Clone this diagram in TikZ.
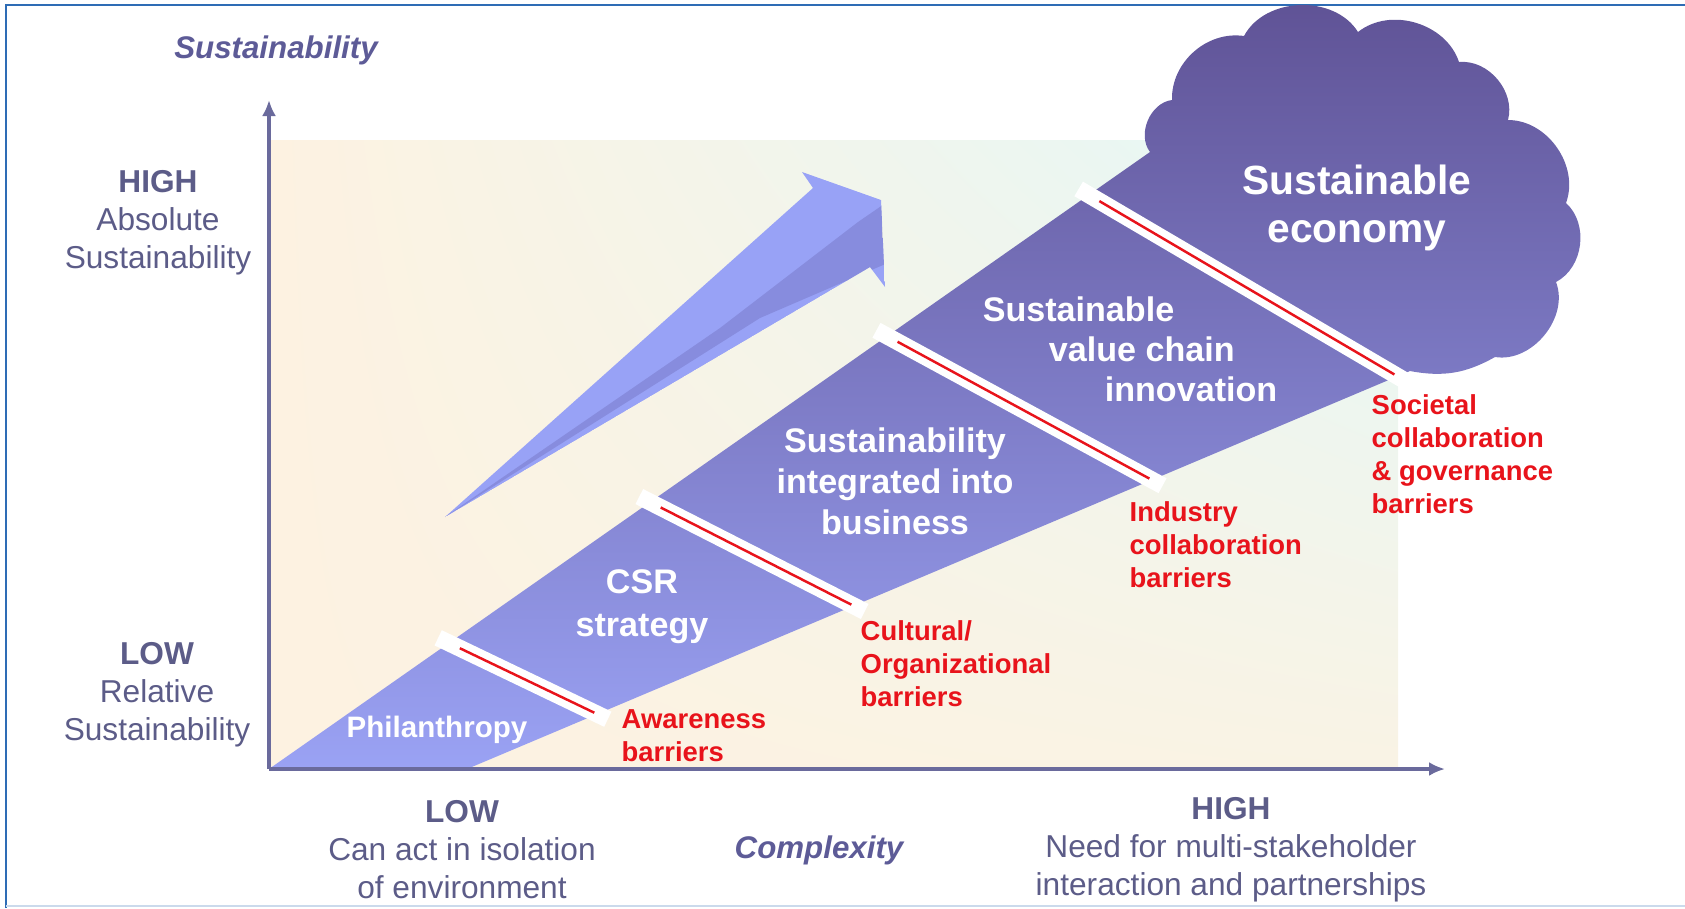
\documentclass[tikz,border=0pt]{standalone}
\usepackage{fontspec}
\setmainfont{Liberation Sans}
\usetikzlibrary{arrows.meta,calc,shadings}

\definecolor{slate}{HTML}{5C5C88}
\definecolor{axisblue}{HTML}{6A6A9C}
\definecolor{titleblue}{HTML}{5D5B97}
\definecolor{barred}{HTML}{E8131B}
\definecolor{stagetop}{HTML}{5F5295}
\definecolor{stagemid}{HTML}{8589DA}
\definecolor{stagebot}{HTML}{9AA2F4}
\definecolor{arrowfill}{HTML}{98A2F6}
\definecolor{arrowdark}{HTML}{6E6CBA}
\definecolor{peach}{HTML}{FDF2E1}
\definecolor{mint}{HTML}{E4F8F8}
\definecolor{framebl}{HTML}{2E6CB5}

\begin{document}
\begin{tikzpicture}[x=0.01cm,y=-0.01cm]
    %
    % `axislabel' is for the HIGH/LOW texts on both axes.
    % `stage' is for the white step names, `barrier' for the red ones.
    % `gap' and `gapline' make the white cut with its red line between two steps.
    \tikzstyle{axislabel} = [text=slate,align=center,font=\fontsize{9}{10.8}\selectfont]
    \tikzstyle{axistitle} = [text=titleblue,font=\fontsize{8.9}{10}\selectfont\bfseries\itshape]
    \tikzstyle{stage} = [text=white,align=center,font=\fontsize{9.7}{11.7}\selectfont\bfseries]
    \tikzstyle{barrier} = [text=barred,align=left,anchor=west,inner sep=0pt,font=\fontsize{7.8}{9.4}\selectfont\bfseries]
    \tikzstyle{gap} = [draw=white,line width=4.8pt]
    \tikzstyle{gapline} = [draw=barred,line width=0.7pt]
    \tikzstyle{axis} = [draw=axisblue,line width=0.9pt,-{Latex[length=1.6mm,width=1.4mm]}]
    %
    \useasboundingbox (0,0) rectangle (1685,908);
    %
    % Frame
    \draw[framebl,line width=0.6pt] (1685,5) -- (6,5) -- (6,908);
    \draw[framebl!25,line width=0.6pt] (6,906) -- (1685,906);
    %
    % Background
    \shade[upper left=peach,lower left=peach,upper right=mint,lower right=peach!85!mint]
        (269,140) rectangle (1398,769);
    %
    % Corners of the steps
    \coordinate (O) at (269,769);
    \coordinate (B) at (467,769);
    \coordinate (cl) at (1150,152);
    \coordinate (cr) at (1410,371);
    \coordinate (t1) at (449,643);
    \coordinate (b1) at (597,714);
    \coordinate (t2) at (650,502);
    \coordinate (b2) at (854,606);
    \coordinate (t3) at (887,336);
    \coordinate (b3) at (1152,480);
    \coordinate (t4) at (1089,195);
    \coordinate (b4) at (1397,376);
    %
    % Steps and cloud
    \shade[top color=stagetop,middle color=stagemid,bottom color=stagebot]
        (O) -- (cl) to[bend left=60] (1172,100) to[bend left=50] (1244,36)
        to[bend left=60] (1358,32) to[bend left=55] (1459,62)
        to[bend left=55] (1508,120) to[bend left=55] (1566,203)
        to[bend left=55] (1556,282) to[bend left=60] (1495,357)
        to[bend left=20] (cr) -- (B) -- cycle;
    %
    % Cuts
    \foreach \i in {1,...,4} {
        \draw[gap] ($(t\i)!-0.12cm!(b\i)$) -- ($(b\i)!-0.12cm!(t\i)$);
        \draw[gapline] ($(t\i)!0.12cm!(b\i)$) -- ($(b\i)!0.03cm!(t\i)$);
    }
    %
    % Big arrow, with a darker fold along it
    \coordinate (tail) at (445,517);
    \begin{scope}
        \clip (tail) -- (813,188) -- (802,172) -- (881,200) -- (885,287) -- (870,267) -- cycle;
        \fill[arrowfill] (tail) -- (813,188) -- (802,172) -- (881,200) -- (885,287) -- (870,267) -- cycle;
        \fill[arrowdark,opacity=0.4] (tail) -- (720,328) -- (858,222) -- (890,200) -- (890,262) -- (760,318) -- cycle;
    \end{scope}
    %
    % Axes
    \coordinate (ytip) at (269,100);
    \coordinate (xtip) at (1445,769);
    \draw[axis] (O) -- (ytip);
    \draw[axis] (O) -- (xtip);
    %
    % Axis texts
    \node[axistitle] (ytitle) at (276,50) {Sustainability};
    \node[axislabel] (yhigh) at (158,223) {\textbf{HIGH}\\Absolute\\Sustainability};
    \node[axislabel] (ylow) at (157,695) {\textbf{LOW}\\Relative\\Sustainability};
    \node[axislabel] (xlow) at (462,850) {\textbf{LOW}\\Can act in isolation\\of environment};
    \node[axistitle] (xtitle) at (819,850) {Complexity};
    \node[axislabel] (xhigh) at (1231,850) {\textbf{HIGH}\\Need for multi-stakeholder\\interaction and partnerships};
    %
    % Steps
    \node[stage,font=\fontsize{8.4}{10}\selectfont\bfseries] (phil) at (437,730) {Philanthropy};
    \node[stage,font=\fontsize{9.7}{12.2}\selectfont\bfseries] (csr) at (642,607) {CSR\\strategy};
    \node[stage] (integ) at (895,481) {Sustainability\\integrated into\\business};
    \node[stage,align=left,font=\fontsize{9.7}{11.4}\selectfont\bfseries] (chain) at (1130,349)
        {Sustainable\\\hspace*{18.8pt}value chain\\\hspace*{34.7pt}innovation};
    \node[stage,font=\fontsize{11.6}{13.4}\selectfont\bfseries] (econ) at (1357,208) {Sustainable\\economy};
    %
    % Barriers
    \node[barrier] (aware) at (621,736) {Awareness\\barriers};
    \node[barrier] (cultural) at (860,664) {Cultural/\\Organizational\\barriers};
    \node[barrier] (industry) at (1129,545) {Industry\\collaboration\\barriers};
    \node[barrier] (societal) at (1371,454) {Societal\\collaboration\\\& governance\\barriers};
    %
\end{tikzpicture}
\end{document}
